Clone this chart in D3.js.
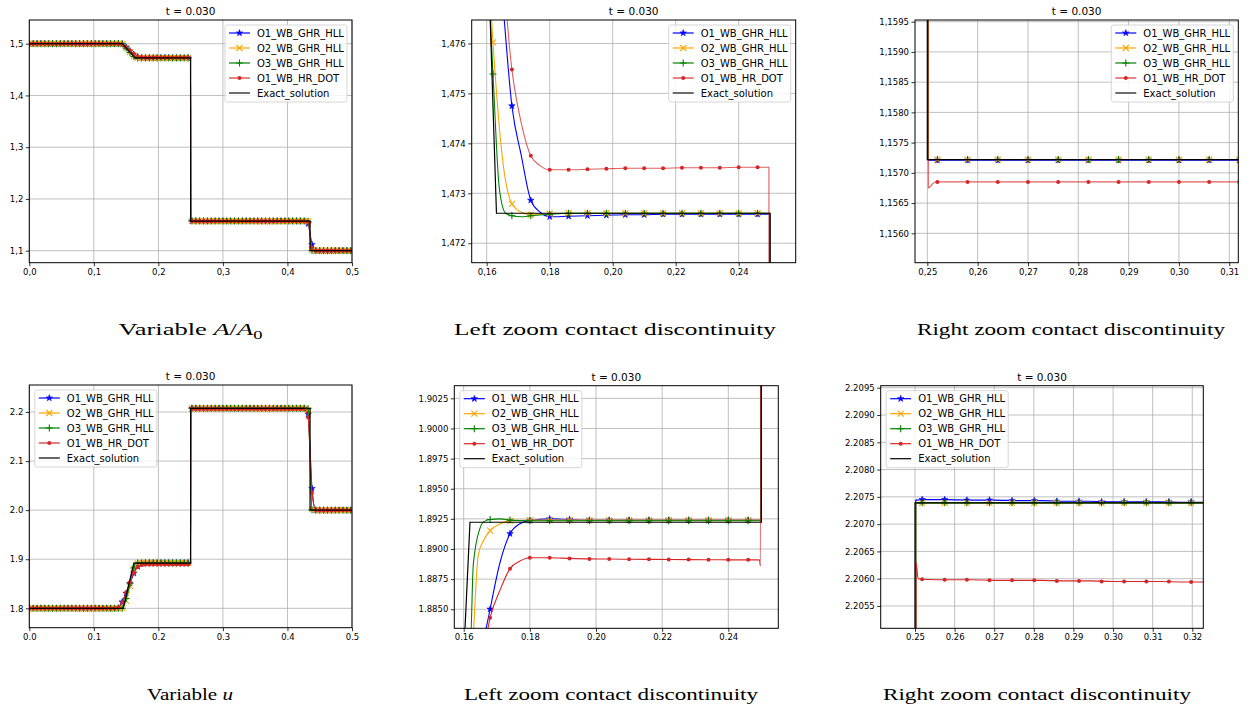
<!DOCTYPE html>
<html>
<head>
<meta charset="utf-8">
<script src="https://cdn.jsdelivr.net/npm/d3@7"></script>
<style>
  body { margin: 0; background: #fff; }
  svg { display: block; }
  text { font-family: "DejaVu Sans", sans-serif; fill: #000; }
  .cap { font-family: "Liberation Serif", "DejaVu Serif", serif; }
</style>
</head>
<body>
<svg id="fig" width="1252" height="707"></svg>
<script>
// ---- mesh positions where the solvers' markers are plotted ----
const gridX = [
  0, 0.006, 0.012, 0.018, 0.024, 0.03, 0.036, 0.042, 0.048, 0.054, 0.06, 0.066,
  0.072, 0.078, 0.084, 0.09, 0.096, 0.102, 0.108, 0.114, 0.12, 0.126, 0.132, 0.138,
  0.144, 0.15, 0.156, 0.162, 0.168, 0.174, 0.18, 0.186, 0.192, 0.198, 0.204, 0.21,
  0.216, 0.222, 0.228, 0.234, 0.24, 0.246, 0.252, 0.258, 0.264, 0.27, 0.276, 0.282,
  0.288, 0.294, 0.3, 0.306, 0.312, 0.318, 0.324, 0.33, 0.336, 0.342, 0.348, 0.354,
  0.36, 0.366, 0.372, 0.378, 0.384, 0.39, 0.396, 0.402, 0.408, 0.414, 0.42, 0.426,
  0.432, 0.438, 0.444, 0.45, 0.456, 0.462, 0.468, 0.474, 0.48, 0.486, 0.492, 0.498
];

// ---- A/A0 ----
const aO1 = [
  1.5, 1.5, 1.5, 1.5, 1.5, 1.5, 1.5, 1.5, 1.5, 1.5, 1.5, 1.5,
  1.5, 1.5, 1.5, 1.5, 1.5, 1.5, 1.5, 1.5, 1.5, 1.5, 1.5, 1.4999,
  1.4990, 1.4930, 1.4860, 1.4790, 1.47475, 1.47286, 1.47253, 1.47254, 1.47255, 1.47256, 1.47257, 1.47257,
  1.47258, 1.47258, 1.47258, 1.47258, 1.47258, 1.47258, 1.15721, 1.15721, 1.15721, 1.15721, 1.15721, 1.15721,
  1.15721, 1.15721, 1.15721, 1.15721, 1.15721, 1.15721, 1.15721, 1.15721, 1.15721, 1.15721, 1.15721, 1.15721,
  1.15721, 1.15721, 1.15721, 1.15721, 1.15721, 1.15721, 1.15721, 1.15721, 1.15721, 1.15721, 1.15721, 1.15721,
  1.1520, 1.1120, 1.1, 1.1, 1.1, 1.1, 1.1, 1.1, 1.1, 1.1, 1.1, 1.1
];
const aO2 = [
  1.5, 1.5, 1.5, 1.5, 1.5, 1.5, 1.5, 1.5, 1.5, 1.5, 1.5, 1.5,
  1.5, 1.5, 1.5, 1.5, 1.5, 1.5, 1.5, 1.5, 1.5, 1.5, 1.5, 1.5,
  1.4998, 1.4920, 1.4838, 1.47602, 1.47279, 1.47257, 1.47259, 1.4726, 1.4726, 1.4726, 1.4726, 1.4726,
  1.4726, 1.4726, 1.4726, 1.4726, 1.4726, 1.4726, 1.15722, 1.15722, 1.15722, 1.15722, 1.15722, 1.15722,
  1.15722, 1.15722, 1.15722, 1.15722, 1.15722, 1.15722, 1.15722, 1.15722, 1.15722, 1.15722, 1.15722, 1.15722,
  1.15722, 1.15722, 1.15722, 1.15722, 1.15722, 1.15722, 1.15722, 1.15722, 1.15722, 1.15722, 1.15722, 1.15722,
  1.1565, 1.1010, 1.1, 1.1, 1.1, 1.1, 1.1, 1.1, 1.1, 1.1, 1.1, 1.1
];
const aO3 = [
  1.5, 1.5, 1.5, 1.5, 1.5, 1.5, 1.5, 1.5, 1.5, 1.5, 1.5, 1.5,
  1.5, 1.5, 1.5, 1.5, 1.5, 1.5, 1.5, 1.5, 1.5, 1.5, 1.5, 1.5,
  1.5000, 1.4915, 1.4832, 1.47539, 1.47255, 1.47255, 1.47258, 1.4726, 1.4726, 1.4726, 1.4726, 1.4726,
  1.4726, 1.4726, 1.4726, 1.4726, 1.4726, 1.4726, 1.15722, 1.15722, 1.15722, 1.15722, 1.15722, 1.15722,
  1.15722, 1.15722, 1.15722, 1.15722, 1.15722, 1.15722, 1.15722, 1.15722, 1.15722, 1.15722, 1.15722, 1.15722,
  1.15722, 1.15722, 1.15722, 1.15722, 1.15722, 1.15722, 1.15722, 1.15722, 1.15722, 1.15722, 1.15722, 1.15722,
  1.1570, 1.1003, 1.1, 1.1, 1.1, 1.1, 1.1, 1.1, 1.1, 1.1, 1.1, 1.1
];
const aDOT = [
  1.5, 1.5, 1.5, 1.5, 1.5, 1.5, 1.5, 1.5, 1.5, 1.5, 1.5, 1.5,
  1.5, 1.5, 1.5, 1.5, 1.5, 1.5, 1.5, 1.5, 1.5, 1.5, 1.5, 1.4998,
  1.4985, 1.4935, 1.4870, 1.4805, 1.47548, 1.47375, 1.47347, 1.47347, 1.47348, 1.47349, 1.4735, 1.4735,
  1.4735, 1.47351, 1.47351, 1.47351, 1.47352, 1.47352, 1.15685, 1.15685, 1.15685, 1.15685, 1.15685, 1.15685,
  1.15685, 1.15685, 1.15685, 1.15685, 1.15685, 1.15685, 1.15685, 1.15685, 1.15685, 1.15685, 1.15685, 1.15685,
  1.15685, 1.15685, 1.15685, 1.15685, 1.15685, 1.15685, 1.15685, 1.15685, 1.15685, 1.15685, 1.15685, 1.15685,
  1.1550, 1.1060, 1.1, 1.1, 1.1, 1.1, 1.1, 1.1, 1.1, 1.1, 1.1, 1.1
];
// extra points of the fine-mesh curves between markers
const aO1Bends = [[0.165, 1.4769], [0.171, 1.47375], [0.177, 1.47262], [0.2498, 1.47258], [0.2502, 1.15721]];
const aO2Bends = [[0.165, 1.4737], [0.171, 1.47262], [0.2498, 1.4726], [0.2502, 1.15722]];
const aO3Bends = [[0.164, 1.4731], [0.166, 1.4726], [0.171, 1.47253], [0.2498, 1.4726], [0.2502, 1.15722]];
const aDOTBends = [[0.171, 1.4744], [0.177, 1.47355], [0.2496, 1.47352], [0.2502, 1.15675], [0.2512, 1.15683]];
const aExact = [[0, 1.5], [0.1445, 1.5], [0.150, 1.4920], [0.156, 1.4837], [0.1611, 1.4765], [0.1631, 1.4726],
  [0.25, 1.4726], [0.25, 1.15722], [0.435, 1.15722], [0.435, 1.1], [0.5, 1.1]];

// ---- u ----
const uO1 = [
  1.8, 1.8, 1.8, 1.8, 1.8, 1.8, 1.8, 1.8, 1.8, 1.8, 1.8, 1.8,
  1.8, 1.8, 1.8, 1.8, 1.8, 1.8, 1.8, 1.8, 1.8, 1.8, 1.8, 1.8005,
  1.8130, 1.8306, 1.8510, 1.8714, 1.88501, 1.89127, 1.89237, 1.8925, 1.89245, 1.8924, 1.8924, 1.8924,
  1.8924, 1.8924, 1.8924, 1.8924, 1.8924, 1.8924, 2.20745, 2.20745, 2.20744, 2.20744, 2.20743, 2.20743,
  2.20742, 2.20742, 2.20741, 2.20741, 2.20741, 2.2074, 2.2074, 2.2074, 2.2074, 2.2074, 2.2074, 2.2074,
  2.2074, 2.2074, 2.2074, 2.2074, 2.2074, 2.2074, 2.2074, 2.2074, 2.2074, 2.2074, 2.2074, 2.2074,
  2.1953, 2.0440, 2.0, 2.0, 2.0, 2.0, 2.0, 2.0, 2.0, 2.0, 2.0, 2.0
];
const uO2 = [
  1.8, 1.8, 1.8, 1.8, 1.8, 1.8, 1.8, 1.8, 1.8, 1.8, 1.8, 1.8,
  1.8, 1.8, 1.8, 1.8, 1.8, 1.8, 1.8, 1.8, 1.8, 1.8, 1.8, 1.8,
  1.8010, 1.8150, 1.8450, 1.8800, 1.89152, 1.89233, 1.8924, 1.8924, 1.8924, 1.8924, 1.8924, 1.8924,
  1.8924, 1.8924, 1.8924, 1.8924, 1.8924, 1.8924, 2.20739, 2.20739, 2.20739, 2.20739, 2.20739, 2.20739,
  2.20739, 2.20739, 2.20739, 2.20739, 2.20739, 2.20739, 2.20739, 2.20739, 2.20739, 2.20739, 2.20739, 2.20739,
  2.20739, 2.20739, 2.20739, 2.20739, 2.20739, 2.20739, 2.20739, 2.20739, 2.20739, 2.20739, 2.20739, 2.20739,
  2.2040, 2.0020, 2.0, 2.0, 2.0, 2.0, 2.0, 2.0, 2.0, 2.0, 2.0, 2.0
];
const uO3 = [
  1.8, 1.8, 1.8, 1.8, 1.8, 1.8, 1.8, 1.8, 1.8, 1.8, 1.8, 1.8,
  1.8, 1.8, 1.8, 1.8, 1.8, 1.8, 1.8, 1.8, 1.8, 1.8, 1.8, 1.8,
  1.8000, 1.8200, 1.8500, 1.8820, 1.89245, 1.8924, 1.89235, 1.89235, 1.89235, 1.89235, 1.89235, 1.89235,
  1.89235, 1.89235, 1.89235, 1.89235, 1.89235, 1.89235, 2.20739, 2.20739, 2.20739, 2.20739, 2.20739, 2.20739,
  2.20739, 2.20739, 2.20739, 2.20739, 2.20739, 2.20739, 2.20739, 2.20739, 2.20739, 2.20739, 2.20739, 2.20739,
  2.20739, 2.20739, 2.20739, 2.20739, 2.20739, 2.20739, 2.20739, 2.20739, 2.20739, 2.20739, 2.20739, 2.20739,
  2.2065, 2.0010, 2.0, 2.0, 2.0, 2.0, 2.0, 2.0, 2.0, 2.0, 2.0, 2.0
];
const uDOT = [
  1.8, 1.8, 1.8, 1.8, 1.8, 1.8, 1.8, 1.8, 1.8, 1.8, 1.8, 1.8,
  1.8, 1.8, 1.8, 1.8, 1.8, 1.8, 1.8, 1.8, 1.8, 1.8, 1.8, 1.8020,
  1.8120, 1.8320, 1.8530, 1.8720, 1.8843, 1.88837, 1.88928, 1.88928, 1.88922, 1.88918, 1.88917, 1.88915,
  1.88914, 1.88913, 1.88912, 1.88911, 1.8891, 1.8891, 2.20599, 2.20598, 2.20598, 2.20597, 2.20597, 2.20597,
  2.20596, 2.20596, 2.20595, 2.20595, 2.20595, 2.20594, 2.20594, 2.20594, 2.20594, 2.20594, 2.20594, 2.20594,
  2.20593, 2.20593, 2.20593, 2.20593, 2.20593, 2.20593, 2.20593, 2.20593, 2.20593, 2.20593, 2.20593, 2.20593,
  2.1890, 2.0350, 2.0, 2.0, 2.0, 2.0, 2.0, 2.0, 2.0, 2.0, 2.0, 2.0
];
const uO1Bends = [[0.165, 1.8805], [0.171, 1.8889], [0.177, 1.8921], [0.2498, 1.8924], [0.2502, 2.20744]];
const uO2Bends = [[0.1614, 1.8834], [0.1644, 1.8895], [0.166, 1.8907], [0.171, 1.8921], [0.2498, 1.8924], [0.2502, 2.20739]];
const uO3Bends = [[0.1609, 1.8834], [0.1629, 1.8887], [0.1649, 1.8917], [0.166, 1.89225], [0.171, 1.8925], [0.2498, 1.89235], [0.2502, 2.20739]];
const uDOTBends = [[0.171, 1.8866], [0.177, 1.8890], [0.2494, 1.8891], [0.2497, 1.8886], [0.25025, 2.2063], [0.2508, 2.2060]];
const uExact = [[0, 1.8], [0.1455, 1.8], [0.1604, 1.8834], [0.1619, 1.89222], [0.25, 1.89222],
  [0.25, 2.20739], [0.435, 2.20739], [0.435, 2.0], [0.5, 2.0]];

// markers of the right-hand u close-up (plotted with their own spacing)
const uRightMarkX = [0.2518, 0.2575, 0.2631, 0.2688, 0.2745, 0.2801, 0.2858, 0.2914, 0.2971, 0.3028, 0.3084, 0.3141, 0.3197];
const uRightO1 = [2.20745, 2.20745, 2.20744, 2.20744, 2.20743, 2.20743, 2.20742, 2.20742, 2.20741, 2.20741, 2.20741, 2.20741, 2.20741];
const uRightO2 = [2.20739, 2.20739, 2.20739, 2.20739, 2.20739, 2.20739, 2.20739, 2.20739, 2.20739, 2.20739, 2.20739, 2.20739, 2.20739];
const uRightO3 = [2.20739, 2.20739, 2.20739, 2.20739, 2.20739, 2.20739, 2.20739, 2.20739, 2.20739, 2.20739, 2.20739, 2.20739, 2.20739];
const uRightDOT = [2.20599, 2.20598, 2.20598, 2.20597, 2.20597, 2.20597, 2.20596, 2.20596, 2.20595, 2.20595, 2.20595, 2.20595, 2.20594];

// ---- series labels and tick values ----
const seriesNames = ["O1_WB_GHR_HLL", "O2_WB_GHR_HLL", "O3_WB_GHR_HLL", "O1_WB_HR_DOT", "Exact_solution"];
const seriesColors = ["#0000ff", "#ffa500", "#008000", "#d62728", "#000000"];
const seriesMarkers = ["star", "x", "plus", "dot", null];

const fullXTicks = [0, 0.1, 0.2, 0.3, 0.4, 0.5];
const aFullYTicks = [1.1, 1.2, 1.3, 1.4, 1.5];
const aLeftXTicks = [0.16, 0.18, 0.20, 0.22, 0.24];
const aLeftYTicks = [1.472, 1.473, 1.474, 1.475, 1.476];
const aRightXTicks = [0.25, 0.26, 0.27, 0.28, 0.29, 0.30, 0.31];
const aRightYTicks = [1.1560, 1.1565, 1.1570, 1.1575, 1.1580, 1.1585, 1.1590, 1.1595];
const uFullYTicks = [1.8, 1.9, 2.0, 2.1, 2.2];
const uLeftXTicks = [0.16, 0.18, 0.20, 0.22, 0.24];
const uLeftYTicks = [1.8850, 1.8875, 1.8900, 1.8925, 1.8950, 1.8975, 1.9000, 1.9025];
const uRightXTicks = [0.25, 0.26, 0.27, 0.28, 0.29, 0.30, 0.31, 0.32];
const uRightYTicks = [2.2055, 2.2060, 2.2065, 2.2070, 2.2075, 2.2080, 2.2085, 2.2090, 2.2095];

const titleText = "t = 0.030";

// ---- assemble the solution sets ----
function solution(ys, bends, exact) {
  return {
    series: ys.map((y, k) => {
      const marks = gridX.map((x, i) => [x, y[i]]);
      const line = marks.concat(bends[k]).sort((p, q) => p[0] - q[0]);
      return { marks, line };
    }),
    exact
  };
}
const solA = solution([aO1, aO2, aO3, aDOT], [aO1Bends, aO2Bends, aO3Bends, aDOTBends], aExact);
const solU = solution([uO1, uO2, uO3, uDOT], [uO1Bends, uO2Bends, uO3Bends, uDOTBends], uExact);
const solURight = {
  series: solU.series.map((s, k) => ({
    line: s.line,
    marks: uRightMarkX.map((x, i) => [x, [uRightO1, uRightO2, uRightO3, uRightDOT][k][i]])
  })),
  exact: uExact
};

const panels = [
  { box: [29.3, 20, 352, 262.7], xDom: [0, 0.5], yDom: [1.0768, 1.5458], xT: fullXTicks, yT: aFullYTicks,
    xDec: 1, yDec: 1, sep: ",", sol: solA, legend: "right", top: true },
  { box: [471.7, 20, 795.7, 262.7], xDom: [0.15524, 0.2581], yDom: [1.47161, 1.47647], xT: aLeftXTicks, yT: aLeftYTicks,
    xDec: 2, yDec: 3, sep: ",", sol: solA, legend: "right", top: true },
  { box: [915, 20, 1238.3, 262.7], xDom: [0.24755, 0.31179], yDom: [1.155514, 1.159528], xT: aRightXTicks, yT: aRightYTicks,
    xDec: 2, yDec: 4, sep: ",", sol: solA, legend: "right", top: true },
  { box: [29.3, 385, 352, 627.7], xDom: [0, 0.5], yDom: [1.7605, 2.255], xT: fullXTicks, yT: uFullYTicks,
    xDec: 1, yDec: 1, sep: ".", sol: solU, legend: "left", top: false },
  { box: [454.3, 385.7, 778.3, 628.3], xDom: [0.15716, 0.25511], yDom: [1.88342, 1.90355], xT: uLeftXTicks, yT: uLeftYTicks,
    xDec: 2, yDec: 4, sep: ".", sol: solU, legend: "left", top: false },
  { box: [880.7, 385.7, 1203.3, 628.3], xDom: [0.24134, 0.32278], yDom: [2.205091, 2.209537], xT: uRightXTicks, yT: uRightYTicks,
    xDec: 2, yDec: 4, sep: ".", sol: solURight, legend: "left", top: false }
];

const svg = d3.select("#fig");
const defs = svg.append("defs");

function addMarker(g, kind, color) {
  if (kind === "star") {
    g.append("path").attr("d", d3.symbol(d3.symbolStar, 13)())
      .attr("fill", color).attr("stroke", color).attr("stroke-width", 0.6);
  } else if (kind === "x") {
    g.append("path").attr("d", "M-3,-3L3,3M-3,3L3,-3")
      .attr("fill", "none").attr("stroke", color).attr("stroke-width", 1.1);
  } else if (kind === "plus") {
    g.append("path").attr("d", "M-3.5,0H3.5M0,-3.5V3.5")
      .attr("fill", "none").attr("stroke", color).attr("stroke-width", 1.1);
  } else if (kind === "dot") {
    g.append("circle").attr("r", 2).attr("fill", color);
  }
}

function fmt(dec, sep) {
  const f = d3.format("." + dec + "f");
  return v => f(v).replace(".", sep);
}

panels.forEach((p, idx) => {
  const [x0, y0, x1, y1] = p.box;
  const x = d3.scaleLinear().domain(p.xDom).range([x0, x1]);
  const y = d3.scaleLinear().domain(p.yDom).range([y1, y0]);
  const g = svg.append("g");
  const clipId = "clip" + idx;
  defs.append("clipPath").attr("id", clipId)
    .append("rect").attr("x", x0).attr("y", y0).attr("width", x1 - x0).attr("height", y1 - y0);

  // grid
  const grid = g.append("g").attr("stroke", "#b0b0b0").attr("stroke-width", 0.8);
  p.xT.forEach(t => grid.append("line").attr("x1", x(t)).attr("x2", x(t)).attr("y1", y0).attr("y2", y1));
  p.yT.forEach(t => grid.append("line").attr("x1", x0).attr("x2", x1).attr("y1", y(t)).attr("y2", y(t)));

  // solver curves with markers
  const plot = g.append("g").attr("clip-path", `url(#${clipId})`);
  const lineGen = d3.line().x(d => x(d[0])).y(d => y(d[1])).curve(d3.curveMonotoneX);
  p.sol.series.forEach((s, k) => {
    const color = seriesColors[k];
    plot.append("path").attr("d", lineGen(s.line)).attr("fill", "none")
      .attr("stroke", color).attr("stroke-width", 1.1)
      .attr("stroke-opacity", (p.top && k === 3) ? 0.75 : 1);
    const mg = plot.append("g");
    s.marks.forEach(d => {
      const px = x(d[0]), py = y(d[1]);
      if (px < x0 - 6 || px > x1 + 6 || py < y0 - 6 || py > y1 + 6) return;
      addMarker(mg.append("g").attr("transform", `translate(${px},${py})`), seriesMarkers[k], color);
    });
  });
  const exactGen = d3.line().x(d => x(d[0])).y(d => y(d[1]));
  plot.append("path").attr("d", exactGen(p.sol.exact)).attr("fill", "none")
    .attr("stroke", "#000").attr("stroke-width", 1.2);

  // frame
  g.append("rect").attr("x", x0).attr("y", y0).attr("width", x1 - x0).attr("height", y1 - y0)
    .attr("fill", "none").attr("stroke", "#000").attr("stroke-width", 1);

  // axes
  const ax = g.append("g").attr("transform", `translate(0,${y1})`)
    .call(d3.axisBottom(x).tickValues(p.xT).tickFormat(fmt(p.xDec, p.sep)).tickSize(3.5).tickPadding(2.5));
  const ay = g.append("g").attr("transform", `translate(${x0},0)`)
    .call(d3.axisLeft(y).tickValues(p.yT).tickFormat(fmt(p.yDec, p.sep)).tickSize(3.5).tickPadding(2.5));
  [ax, ay].forEach(a => {
    a.select(".domain").remove();
    a.selectAll("line").attr("stroke", "#000").attr("stroke-width", 0.8);
    a.selectAll("text").attr("font-size", "8.5px").attr("font-family", "DejaVu Sans").attr("fill", "#000");
  });

  // title
  g.append("text").attr("x", (x0 + x1) / 2).attr("y", y0 - 5).attr("text-anchor", "middle")
    .attr("font-size", "10.5px").text(titleText);

  // legend
  const lw = 122, lh = 77;
  const lx = p.legend === "right" ? x1 - 5 - lw : x0 + 5.5;
  const ly = y0 + 5;
  const lg = g.append("g");
  lg.append("rect").attr("x", lx).attr("y", ly).attr("width", lw).attr("height", lh).attr("rx", 2.5)
    .attr("fill", "#fff").attr("fill-opacity", 0.85).attr("stroke", "#cccccc").attr("stroke-width", 0.8);
  seriesNames.forEach((name, k) => {
    const cy = ly + 8 + k * 15;
    let col = seriesColors[k], sw = 1.2;
    if (p.top && k === 3) { col = "#e3686a"; sw = 1.6; }
    if (p.top && k === 4) { col = "#6e6e6e"; sw = 2; }
    lg.append("line").attr("x1", lx + 4).attr("x2", lx + 25).attr("y1", cy).attr("y2", cy)
      .attr("stroke", col).attr("stroke-width", sw);
    if (seriesMarkers[k]) addMarker(lg.append("g").attr("transform", `translate(${lx + 14.5},${cy})`), seriesMarkers[k], seriesColors[k]);
    lg.append("text").attr("x", lx + 32).attr("y", cy).attr("dy", "0.35em").attr("font-size", "10px").text(name);
  });
});

// captions under each panel
function caption(cx, cy, parts, width, size) {
  const t = svg.append("text").attr("class", "cap").attr("x", cx).attr("y", cy)
    .attr("text-anchor", "middle").attr("font-size", size + "px");
  parts.forEach(pt => {
    const s = t.append("tspan").text(pt.t);
    if (pt.i) s.attr("font-style", "italic");
    if (pt.sub) s.attr("font-size", (size * 0.7) + "px").attr("dy", "0.3em");
  });
  if (width) t.attr("textLength", width).attr("lengthAdjust", "spacingAndGlyphs");
}
caption(190.5, 335, [{ t: "Variable " }, { t: "A", i: true }, { t: "/" }, { t: "A", i: true }, { t: "0", sub: true }], 144, 17);
caption(615, 335, [{ t: "Left zoom contact discontinuity" }], 322, 17);
caption(1071, 335, [{ t: "Right zoom contact discontinuity" }], 308, 17);
caption(190, 700, [{ t: "Variable " }, { t: "u", i: true }], 86, 17);
caption(611, 700, [{ t: "Left zoom contact discontinuity" }], 294, 17);
caption(1037, 700, [{ t: "Right zoom contact discontinuity" }], 308, 17);
</script>
</body>
</html>
